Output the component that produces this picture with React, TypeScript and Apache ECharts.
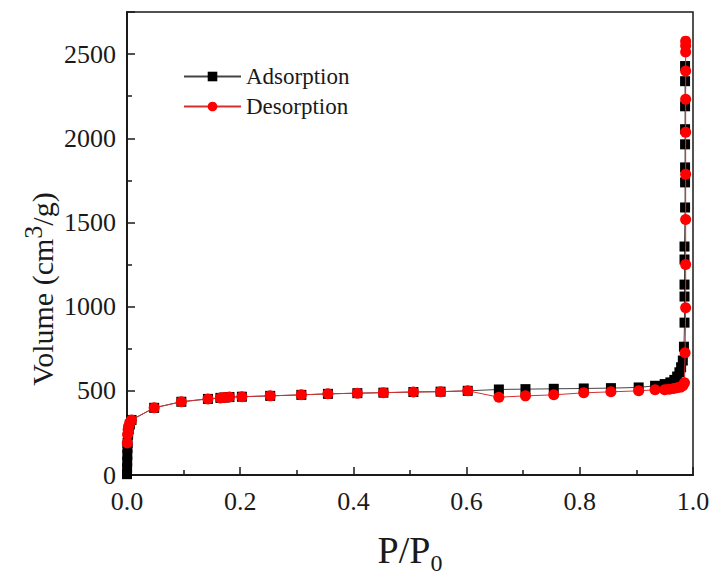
import React, { useEffect, useRef } from "react";
import * as echarts from "echarts";

const adsorptionP = [0, 0.0002, 0.0004, 0.0006, 0.0008, 0.001, 0.002, 0.003, 0.005, 0.008, 0.048, 0.096, 0.143, 0.165, 0.172, 0.181, 0.203, 0.253, 0.308, 0.355, 0.407, 0.453, 0.506, 0.554, 0.602, 0.657, 0.704, 0.754, 0.807, 0.855, 0.904, 0.933, 0.95, 0.96, 0.967, 0.972, 0.976, 0.979, 0.982, 0.984, 0.985, 0.985, 0.985, 0.985, 0.985, 0.986, 0.986, 0.986, 0.986, 0.986, 0.986, 0.986, 0.986];
const adsorptionV = [5, 40, 80, 120, 160, 190, 240, 270, 300, 327, 399, 435, 452, 458, 460, 463, 465, 470, 476, 482, 486, 489, 493, 495, 500, 508, 510, 512, 514, 516, 520, 530, 540, 550, 565, 585, 610, 640, 680, 762, 905, 1060, 1131, 1280, 1357, 1589, 1738, 1827, 1964, 2054, 2190, 2339, 2429];

const desorptionP = [0.987, 0.987, 0.987, 0.987, 0.987, 0.987, 0.987, 0.987, 0.987, 0.987, 0.986, 0.985, 0.982, 0.978, 0.972, 0.966, 0.958, 0.95, 0.933, 0.904, 0.855, 0.807, 0.754, 0.704, 0.657, 0.602, 0.554, 0.506, 0.453, 0.407, 0.355, 0.308, 0.253, 0.203, 0.181, 0.172, 0.165, 0.143, 0.096, 0.048, 0.008, 0.005, 0.003, 0.002, 0.001, 0.0005];
const desorptionV = [2577, 2550, 2512, 2399, 2232, 2036, 1786, 1518, 1250, 994, 726, 548, 530, 522, 518, 514, 510, 506, 506, 500, 494, 488, 476, 470, 462, 500, 495, 493, 489, 486, 482, 476, 470, 465, 463, 460, 458, 452, 435, 399, 327, 310, 290, 270, 240, 190];

const xTicks = { min: 0, max: 1.0, interval: 0.2 };
const yTicks = { min: 0, max: 2750, interval: 500 };
const yLabels = ["0", "500", "1000", "1500", "2000", "2500"];

const FONT = "Liberation Serif";
const TXT = "#1a1a1a";

export default function App() {
  const ref = useRef<HTMLDivElement>(null);
  useEffect(() => {
    if (!ref.current) return;
    const chart = echarts.init(ref.current, null, { renderer: "svg" });
    const ads = adsorptionP.map((p, i) => [p, adsorptionV[i]]);
    const des = desorptionP.map((p, i) => [p, desorptionV[i]]);
    const axisCommon = {
      axisLine: { show: true, lineStyle: { color: TXT, width: 2 } },
      axisTick: { show: true, inside: true, length: 8, lineStyle: { color: TXT, width: 1.5 } },
      minorTick: { show: true, splitNumber: 2, length: 5, lineStyle: { color: TXT, width: 1.5 } },
      splitLine: { show: false },
      axisLabel: { color: TXT, fontFamily: FONT, fontSize: 26 },
    };
    chart.setOption({
      animation: false,
      backgroundColor: "#fff",
      grid: { left: 127, right: 21, top: 12, bottom: 100, show: true, borderColor: TXT, borderWidth: 1.5, containLabel: false },
      legend: {
        orient: "vertical",
        left: 178,
        top: 60,
        itemWidth: 57,
        itemHeight: 12,
        itemGap: 7,
        textStyle: { fontFamily: FONT, fontSize: 23, color: TXT },
        data: ["Adsorption", "Desorption"],
      },
      xAxis: {
        type: "value",
        min: xTicks.min,
        max: xTicks.max,
        interval: xTicks.interval,
        ...axisCommon,
        axisLabel: { ...axisCommon.axisLabel, margin: 13, formatter: (v: number) => v.toFixed(1) },
      },
      yAxis: {
        type: "value",
        min: yTicks.min,
        max: yTicks.max,
        interval: yTicks.interval,
        ...axisCommon,
        axisLabel: {
          ...axisCommon.axisLabel,
          margin: 11,
          formatter: (v: number) => (yLabels.includes(String(v)) ? String(v) : ""),
        },
      },
      graphic: [
        {
          type: "text",
          x: 42,
          y: 289,
          rotation: Math.PI / 2,
          style: {
            text: "Volume (cm{sup|3}/g)",
            font: `30px ${FONT}`,
            fill: TXT,
            align: "center",
            verticalAlign: "middle",
            rich: {
              sup: { fontSize: 26, fontFamily: FONT, fill: TXT, padding: [0, 0, 18, 0] },
            },
          },
        },
        {
          type: "text",
          x: 410,
          y: 550,
          style: {
            text: "P/P{sub|0}",
            font: `38px ${FONT}`,
            fill: TXT,
            align: "center",
            verticalAlign: "middle",
            rich: {
              sub: { fontSize: 24, fontFamily: FONT, fill: TXT, padding: [26, 0, 0, 0] },
            },
          },
        },
      ],
      series: [
        {
          name: "Adsorption",
          type: "line",
          data: ads,
          symbol: "rect",
          symbolSize: 10,
          itemStyle: { color: "#000" },
          lineStyle: { color: "#444", width: 1 },
          z: 2,
        },
        {
          name: "Desorption",
          type: "line",
          data: des,
          symbol: "circle",
          symbolSize: 11,
          itemStyle: { color: "#f00" },
          lineStyle: { color: "#d43030", width: 1 },
          z: 3,
        },
      ],
    });
    return () => chart.dispose();
  }, []);
  return <div ref={ref} style={{ position: "absolute", left: 0, top: 0, width: 714, height: 575 }} />;
}
